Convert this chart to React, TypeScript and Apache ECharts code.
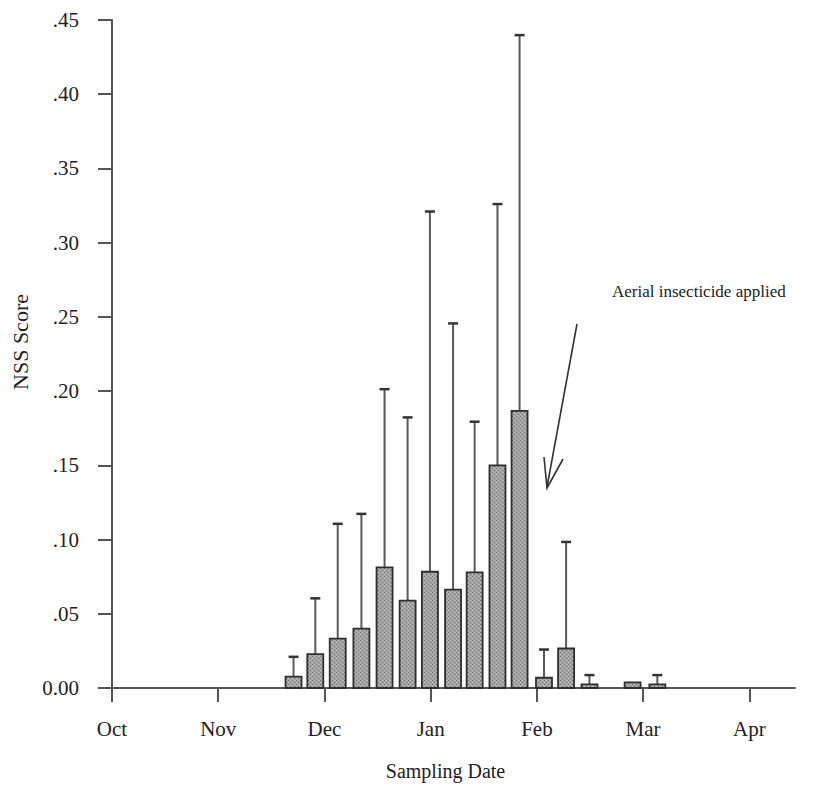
import React, { useEffect, useRef } from "react";
import * as echarts from "echarts";

// Sampling dates expressed as months after 1 Oct (Oct = 0, Nov = 1, ...)
const sampleMonths = [1.709, 1.914, 2.125, 2.348, 2.566, 2.783, 2.993, 3.211, 3.414, 3.629, 3.837, 4.067, 4.275, 4.495, 4.901, 5.134];
// Mean NSS score per sampling date
const meanNSS = [0.0076, 0.0228, 0.0332, 0.040, 0.0812, 0.0589, 0.0783, 0.0663, 0.0779, 0.150, 0.1867, 0.0069, 0.0266, 0.0025, 0.0038, 0.0025];
// Upper end of the error bar (null = none drawn)
const upperNSS: (number | null)[] = [0.021, 0.0604, 0.1106, 0.1173, 0.2013, 0.1823, 0.321, 0.2456, 0.1794, 0.326, 0.4398, 0.0259, 0.0984, 0.0087, null, 0.0087];

const monthLabels = ["Oct", "Nov", "Dec", "Jan", "Feb", "Mar", "Apr"];
const monthTicks = [0, 1, 2, 3, 4, 5, 6];
const yMax = 0.45;
const yStep = 0.05;
const xMax = 6.43;

const annotationText = "Aerial insecticide applied";
const FONT = "'Liberation Serif', 'DejaVu Serif', 'Times New Roman', serif";

function makeStipple(): any {
  try {
    const c = document.createElement("canvas");
    c.width = 4;
    c.height = 4;
    const ctx = c.getContext("2d");
    if (!ctx) return "#989898";
    ctx.fillStyle = "#a4a4a4";
    ctx.fillRect(0, 0, 4, 4);
    ctx.fillStyle = "#6e6e6e";
    ctx.fillRect(0, 0, 1, 1);
    ctx.fillRect(2, 2, 1, 1);
    ctx.fillStyle = "#c4c4c4";
    ctx.fillRect(2, 0, 1, 1);
    ctx.fillRect(0, 2, 1, 1);
    return { image: c.toDataURL(), repeat: "repeat" };
  } catch (e) {
    return "#989898";
  }
}

export default function App() {
  const ref = useRef<HTMLDivElement>(null);

  useEffect(() => {
    if (!ref.current) return;
    const chart = echarts.init(ref.current, null, { renderer: "svg" });
    const barFill = makeStipple();

    const data = sampleMonths.map((m, i) => [m, meanNSS[i], upperNSS[i] == null ? meanNSS[i] : upperNSS[i], upperNSS[i] == null ? 0 : 1]);

    const option: any = {
      animation: false,
      backgroundColor: "#ffffff",
      grid: { left: 112, right: 33, top: 20, bottom: 90, containLabel: false },
      xAxis: {
        type: "value",
        min: 0,
        max: xMax,
        name: "Sampling Date",
        nameLocation: "middle",
        nameGap: 73,
        nameTextStyle: { fontFamily: FONT, fontSize: 20, color: "#222", padding: [0, 16, 0, 0] },
        splitLine: { show: false },
        axisLine: { show: true, onZero: false, lineStyle: { color: "#555", width: 2 } },
        axisTick: { show: true, customValues: monthTicks, length: 14, lineStyle: { color: "#555", width: 2 } },
        axisLabel: {
          customValues: monthTicks,
          margin: 30,
          fontFamily: FONT,
          fontSize: 21,
          color: "#222",
          formatter: (v: number) => monthLabels[Math.round(v)] ?? "",
        },
      },
      yAxis: {
        type: "value",
        min: 0,
        max: yMax,
        interval: yStep,
        name: "NSS Score",
        nameLocation: "middle",
        nameGap: 80,
        nameRotate: 90,
        nameTextStyle: { fontFamily: FONT, fontSize: 22, color: "#222", padding: [0, 0, 0, 24] },
        splitLine: { show: false },
        axisLine: { show: true, lineStyle: { color: "#555", width: 2 } },
        axisTick: { show: true, length: 14, lineStyle: { color: "#555", width: 2 } },
        axisLabel: {
          margin: 33,
          fontFamily: FONT,
          fontSize: 21,
          color: "#222",
          formatter: (v: number) => (v === 0 ? "0.00" : v.toFixed(2).replace(/^0/, "")),
        },
      },
      series: [
        {
          type: "custom",
          data,
          encode: { x: 0, y: 1 },
          clip: false,
          renderItem: (params: any, api: any) => {
            const x = api.value(0);
            const m = api.value(1);
            const u = api.value(2);
            const hasErr = api.value(3) === 1;
            const base = api.coord([x, 0]);
            const top = api.coord([x, m]);
            const up = api.coord([x, u]);
            const w = 16;
            const cap = 10;
            const children: any[] = [];
            if (hasErr) {
              children.push({
                type: "line",
                shape: { x1: top[0], y1: top[1], x2: up[0], y2: up[1] },
                style: { stroke: "#5a5a5a", lineWidth: 2 },
              });
              children.push({
                type: "line",
                shape: { x1: up[0] - cap / 2, y1: up[1], x2: up[0] + cap / 2, y2: up[1] },
                style: { stroke: "#333", lineWidth: 2.5 },
              });
            }
            children.push({
              type: "rect",
              shape: { x: top[0] - w / 2, y: top[1], width: w, height: Math.max(base[1] - top[1], 2) },
              style: { fill: barFill, stroke: "#2e2e2e", lineWidth: 1.8 },
            });
            return { type: "group", children };
          },
        },
      ],
      graphic: [
        {
          type: "text",
          left: 612,
          top: 283,
          style: { text: annotationText, fontFamily: FONT, fontSize: 17, fill: "#222" },
        },
        {
          type: "line",
          shape: { x1: 577, y1: 324, x2: 547, y2: 487 },
          style: { stroke: "#333", lineWidth: 1.6 },
        },
        {
          type: "polyline",
          shape: { points: [[544, 457], [547, 488], [563, 459]] },
          style: { stroke: "#333", lineWidth: 1.6, fill: null },
        },
      ],
    };

    chart.setOption(option);
    return () => chart.dispose();
  }, []);

  return (
    <div
      ref={ref}
      style={{ position: "fixed", left: 0, top: 0, width: 828, height: 786, background: "#fff" }}
    />
  );
}
